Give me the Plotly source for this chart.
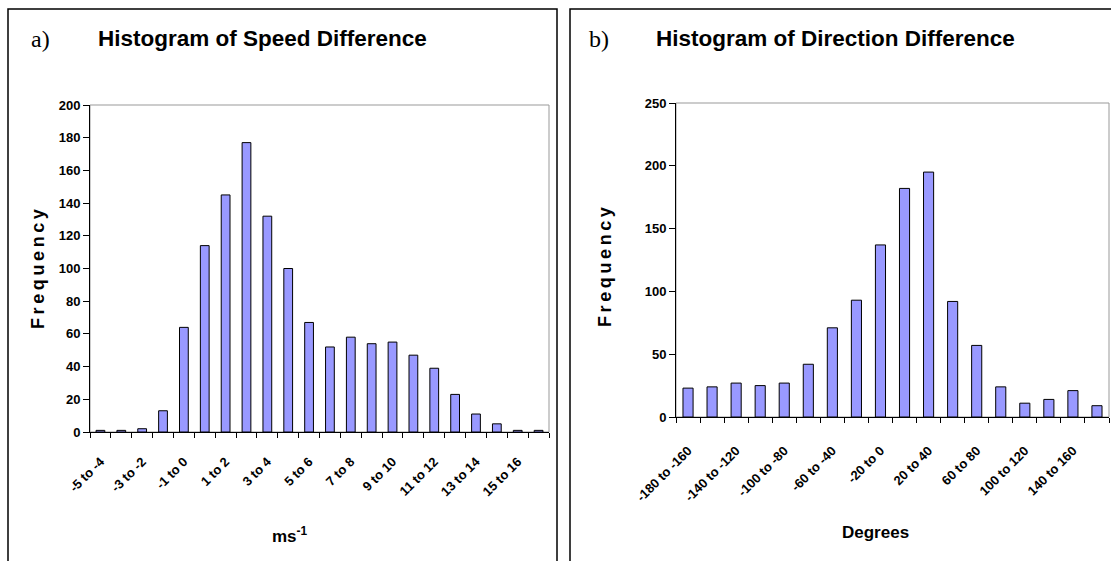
import plotly.graph_objects as go

W, H = 1111, 561

speed_bins = ["-5 to -4", "-4 to -3", "-3 to -2", "-2 to -1", "-1 to 0", "0 to 1",
              "1 to 2", "2 to 3", "3 to 4", "4 to 5", "5 to 6", "6 to 7", "7 to 8",
              "8 to 9", "9 to 10", "10 to 11", "11 to 12", "12 to 13", "13 to 14",
              "14 to 15", "15 to 16", "16 to 17"]
speed_freq = [1, 1, 2, 13, 64, 114, 145, 177, 132, 100, 67, 52, 58, 54, 55, 47,
              39, 23, 11, 5, 1, 1]

dir_bins = ["-180 to -160", "-160 to -140", "-140 to -120", "-120 to -100",
            "-100 to -80", "-80 to -60", "-60 to -40", "-40 to -20", "-20 to 0",
            "0 to 20", "20 to 40", "40 to 60", "60 to 80", "80 to 100",
            "100 to 120", "120 to 140", "140 to 160", "160 to 180"]
dir_freq = [23, 24, 27, 25, 27, 42, 71, 93, 137, 182, 195, 92, 57, 24, 11, 14, 21, 9]

speed_yticks = list(range(0, 201, 20))
dir_yticks = list(range(0, 251, 50))

FONT = "Liberation Sans Narrow, Arial Narrow, Liberation Sans, Arial, sans-serif"
TICK_FONT = dict(family=FONT, size=13, color="black", weight="bold")

def px_x(p):
    return p / W

def px_y(p):
    return 1 - p / H

fig = go.Figure()

xs1 = list(range(len(speed_bins)))
xs2 = list(range(len(dir_bins)))

bar_style = dict(marker=dict(color="#9999FF", line=dict(color="black", width=1)),
                 showlegend=False, hovertemplate="%{customdata}: %{y}<extra></extra>")

fig.add_trace(go.Bar(x=xs1, y=speed_freq, xaxis="x", yaxis="y",
                     customdata=speed_bins, **bar_style))
fig.add_trace(go.Bar(x=xs2, y=dir_freq, xaxis="x2", yaxis="y2",
                     customdata=dir_bins, **bar_style))

def xaxis_cfg(domain, bins, anchor, standoff):
    n = len(bins)
    return dict(
        domain=domain, anchor=anchor, range=[-0.5, n - 0.5], tickmode="array",
        tickvals=list(range(0, n, 2)), ticktext=bins[::2], tickangle=-45,
        ticks="", showline=True, linecolor="black", linewidth=1,
        showgrid=False, zeroline=False, tickfont=TICK_FONT,
        ticklabelstandoff=standoff, automargin=False,
        minor=dict(tickmode="linear", tick0=-0.5, dtick=1, ticks="outside",
                   ticklen=5, tickcolor="black", tickwidth=1, showgrid=False),
        fixedrange=True,
    )

def yaxis_cfg(domain, anchor, rng, ticks):
    return dict(
        domain=domain, anchor=anchor, range=rng, tickmode="array",
        tickvals=ticks, ticks="outside", ticklen=6, tickcolor="black",
        showline=True, linecolor="black", linewidth=1, showgrid=False,
        zeroline=False, tickfont=TICK_FONT, fixedrange=True, automargin=False,
    )

fig.update_layout(
    width=W, height=H,
    margin=dict(l=0, r=0, t=0, b=0, autoexpand=False),
    paper_bgcolor="white", plot_bgcolor="white",
    bargap=0.58,
    xaxis=xaxis_cfg([px_x(90), px_x(549)], speed_bins, "y", 16),
    yaxis=yaxis_cfg([px_y(432), px_y(105)], "x", [0, 200], speed_yticks),
    xaxis2=xaxis_cfg([px_x(676), px_x(1109)], dir_bins, "y2", 20),
    yaxis2=yaxis_cfg([px_y(417), px_y(103)], "x2", [0, 250], dir_yticks),
)

# plot area borders (grey) and panel borders (black)
for xr, yr in (("x domain", "y domain"), ("x2 domain", "y2 domain")):
    fig.add_shape(type="rect", xref=xr, yref=yr, x0=0, x1=1, y0=0, y1=1,
                  line=dict(color="#999999", width=1), layer="below")

for x0, x1 in ((8, 557), (570, 1120)):
    fig.add_shape(type="rect", xref="paper", yref="paper",
                  x0=px_x(x0), x1=px_x(x1), y0=px_y(9), y1=-0.1,
                  line=dict(color="black", width=1.5))

def ann(text, x, y, size, family=FONT, angle=0, xanchor="center"):
    fig.add_annotation(text=text, x=px_x(x), y=px_y(y), xref="paper", yref="paper",
                       showarrow=False, textangle=angle, xanchor=xanchor,
                       yanchor="middle", font=dict(family=family, size=size,
                                                   color="black"))

SERIF = "Liberation Serif, Times New Roman, serif"
ann("a)", 29, 39, 24, family=SERIF, xanchor="left")
ann("<b>Histogram of Speed Difference</b>", 96, 38, 22.5, xanchor="left")
ann("b)", 587, 39, 24, family=SERIF, xanchor="left")
ann("<b>Histogram of Direction Difference</b>", 654, 38, 22.5, xanchor="left")

freq = "\u2009".join("Frequency")
ann("<b>" + freq + "</b>", 38, 269, 18, angle=-90)
ann("<b>" + freq + "</b>", 605, 267, 18, angle=-90)
ann("<b>ms<sup>-1</sup></b>", 290, 535, 17)
ann("<b>Degrees</b>", 875, 532, 17)

fig.write_html("out.html")
